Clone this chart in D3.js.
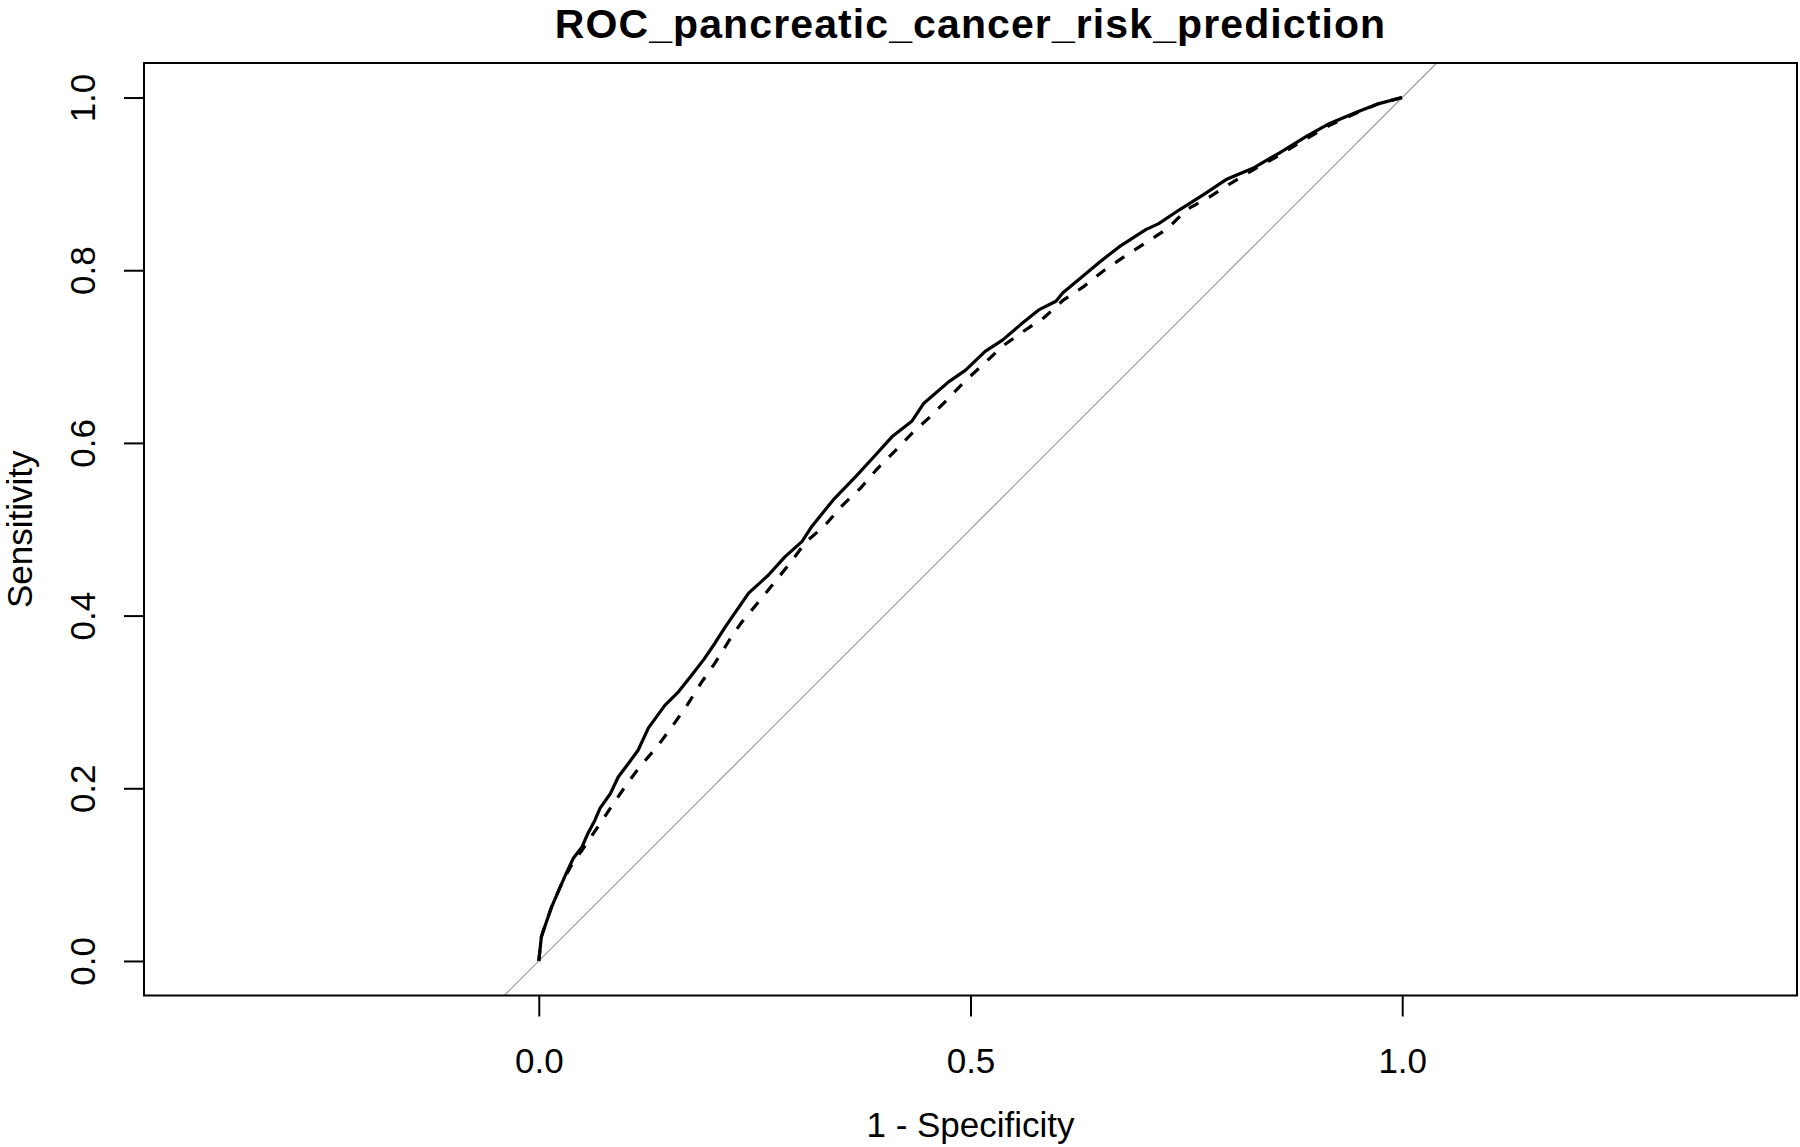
<!DOCTYPE html>
<html>
<head>
<meta charset="utf-8">
<script src="https://cdn.jsdelivr.net/npm/d3@7"></script>
<style>
  html, body { margin: 0; padding: 0; background: #fff; }
  svg { display: block; }
  text { font-family: "Liberation Sans", Arial, sans-serif; fill: #000; }
</style>
</head>
<body>
<svg id="chart" width="1800" height="1147"></svg>
<script>
// ---------------- data ----------------
const chartTitle = "ROC_pancreatic_cancer_risk_prediction";
const xLabel = "1 - Specificity";
const yLabel = "Sensitivity";
const xTicks = [0, 0.5, 1];
const yTicks = [0, 0.2, 0.4, 0.6, 0.8, 1.0];

// Model 1 (solid): 1 - specificity, sensitivity
const solidFpr = [0, 0.003, 0.007, 0.015, 0.025, 0.032, 0.040, 0.050, 0.057, 0.065, 0.071, 0.083, 0.092, 0.104, 0.115, 0.127, 0.146, 0.162, 0.177, 0.191, 0.204, 0.216, 0.243, 0.266, 0.285, 0.305, 0.316, 0.341, 0.367, 0.390, 0.409, 0.432, 0.446, 0.475, 0.494, 0.517, 0.537, 0.558, 0.579, 0.599, 0.607, 0.630, 0.649, 0.672, 0.703, 0.718, 0.742, 0.769, 0.796, 0.827, 0.858, 0.889, 0.916, 0.947, 0.973, 1.0];
const solidTpr = [0, 0.028, 0.040, 0.063, 0.086, 0.102, 0.119, 0.132, 0.148, 0.163, 0.177, 0.194, 0.213, 0.229, 0.244, 0.270, 0.296, 0.312, 0.331, 0.349, 0.368, 0.387, 0.426, 0.447, 0.468, 0.486, 0.503, 0.534, 0.561, 0.586, 0.607, 0.625, 0.646, 0.671, 0.684, 0.706, 0.719, 0.737, 0.754, 0.764, 0.774, 0.793, 0.809, 0.827, 0.847, 0.854, 0.870, 0.887, 0.905, 0.918, 0.936, 0.955, 0.970, 0.983, 0.993, 1.0];

// Model 2 (dashed)
const dashFpr = [0, 0.003, 0.007, 0.015, 0.025, 0.032, 0.040, 0.050, 0.060, 0.069, 0.083, 0.100, 0.117, 0.137, 0.154, 0.171, 0.188, 0.204, 0.221, 0.234, 0.253, 0.275, 0.292, 0.309, 0.330, 0.352, 0.373, 0.392, 0.413, 0.433, 0.453, 0.473, 0.494, 0.516, 0.537, 0.561, 0.585, 0.607, 0.631, 0.655, 0.680, 0.705, 0.728, 0.750, 0.777, 0.802, 0.827, 0.854, 0.885, 0.916, 0.947, 0.973, 1.0];
const dashTpr = [0, 0.028, 0.040, 0.063, 0.086, 0.100, 0.115, 0.128, 0.143, 0.156, 0.177, 0.202, 0.225, 0.248, 0.271, 0.295, 0.322, 0.345, 0.372, 0.391, 0.414, 0.441, 0.462, 0.485, 0.503, 0.528, 0.548, 0.570, 0.591, 0.612, 0.630, 0.650, 0.672, 0.692, 0.712, 0.729, 0.745, 0.765, 0.781, 0.800, 0.817, 0.833, 0.848, 0.870, 0.885, 0.901, 0.916, 0.931, 0.950, 0.968, 0.982, 0.993, 1.0];

// ---------------- layout ----------------
const box = { left: 144, right: 1797, top: 63, bottom: 995.5 };
const yDomain = [-0.04, 1.04];
const svg = d3.select("#chart");

const y = d3.scaleLinear().domain(yDomain).range([box.bottom, box.top]);
// aspect ratio 1: same units per pixel on x as on y, centered at 0.5
const unit = (box.bottom - box.top) / (yDomain[1] - yDomain[0]);
const halfW = (box.right - box.left) / 2 / unit;
const x = d3.scaleLinear().domain([0.5 - halfW, 0.5 + halfW]).range([box.left, box.right]);

// identity line across the full plot region
const diag = [yDomain[0], yDomain[1]];
svg.append("line")
  .attr("x1", x(diag[0])).attr("y1", y(diag[0]))
  .attr("x2", x(diag[1])).attr("y2", y(diag[1]))
  .attr("stroke", "#9a9a9a").attr("stroke-width", 1.2);

const line = d3.line().x(d => x(d[0])).y(d => y(d[1]));
const solid = solidFpr.map((v, i) => [v, solidTpr[i]]);
const dashed = dashFpr.map((v, i) => [v, dashTpr[i]]);

svg.append("path").datum(dashed)
  .attr("d", line).attr("fill", "none").attr("stroke", "#000")
  .attr("stroke-width", 3.2).attr("stroke-dasharray", "11,12")
  .attr("stroke-linejoin", "round");
svg.append("path").datum(solid)
  .attr("d", line).attr("fill", "none").attr("stroke", "#000")
  .attr("stroke-width", 3.2).attr("stroke-linejoin", "round");

// plot box
svg.append("rect")
  .attr("x", box.left).attr("y", box.top)
  .attr("width", box.right - box.left).attr("height", box.bottom - box.top)
  .attr("fill", "none").attr("stroke", "#000").attr("stroke-width", 2);

// x axis
const fmt = d3.format(".1f");
const gx = svg.append("g").attr("transform", `translate(0,${box.bottom})`)
  .call(d3.axisBottom(x).tickValues(xTicks).tickFormat(fmt).tickSize(21));
gx.select(".domain").remove();
gx.selectAll(".tick line").attr("stroke", "#000").attr("stroke-width", 2);
gx.selectAll(".tick text")
  .attr("y", 77).attr("dy", null)
  .style("font-size", "35px").style("font-family", "Liberation Sans, Arial, sans-serif");

// y axis
const gy = svg.append("g").attr("transform", `translate(${box.left},0)`)
  .call(d3.axisLeft(y).tickValues(yTicks).tickFormat(fmt).tickSize(20));
gy.select(".domain").remove();
gy.selectAll(".tick line").attr("stroke", "#000").attr("stroke-width", 2);
gy.selectAll(".tick text")
  .attr("x", 0).attr("dy", null).attr("y", -49)
  .attr("transform", "rotate(-90)")
  .attr("text-anchor", "middle")
  .style("font-size", "35px").style("font-family", "Liberation Sans, Arial, sans-serif");

// titles
const cx = (box.left + box.right) / 2;
svg.append("text").attr("x", cx).attr("y", 38)
  .attr("text-anchor", "middle")
  .style("font-size", "41px").style("font-weight", "bold")
  .style("letter-spacing", "1.1px")
  .text(chartTitle);
svg.append("text").attr("x", cx).attr("y", 1137)
  .attr("text-anchor", "middle").style("font-size", "35px")
  .text(xLabel);
svg.append("text")
  .attr("transform", `translate(32,${(box.top + box.bottom) / 2}) rotate(-90)`)
  .attr("text-anchor", "middle").style("font-size", "35px")
  .text(yLabel);
</script>
</body>
</html>
